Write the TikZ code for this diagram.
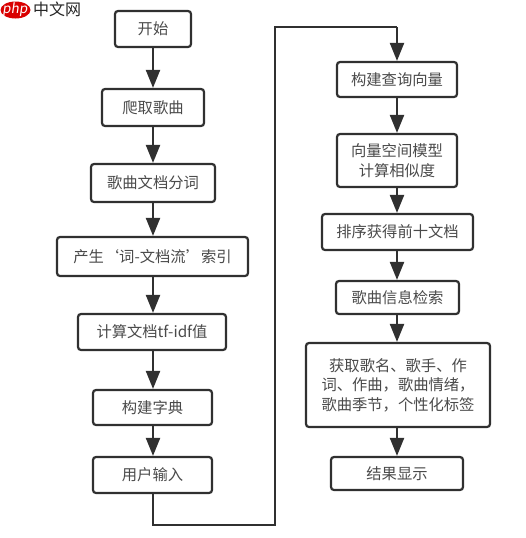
\documentclass[tikz,border=0pt]{standalone}
\usepackage{fontspec}
\setmainfont{Noto Sans CJK SC}
\usepackage{tikz}
\usetikzlibrary{shapes.geometric,calc,arrows.meta}
\definecolor{linegray}{HTML}{303030}
\definecolor{textgray}{HTML}{4A4A4A}

\begin{document}
\begin{tikzpicture}[
    x=1pt, y=-1pt,
    box/.style={draw=linegray, line width=2.2pt, rounded corners=3pt, fill=white, align=center, text=textgray, font=\fontsize{15.3}{19.5}\selectfont, inner sep=0pt},
    arr/.style={-{Triangle[length=18pt,width=14pt]}, line width=2.2pt, draw=linegray}
]
\useasboundingbox (0,0) rectangle (526,538);

% left column
\node[box, minimum width=76pt, minimum height=36pt] (start) at (153,29) {开始};
\node[box, minimum width=102pt, minimum height=37pt] (crawl) at (153,107.5) {爬取歌曲};
\node[box, minimum width=124pt, minimum height=38pt] (seg) at (153,183) {歌曲文档分词};
\node[box, minimum width=191pt, minimum height=39pt] (index) at (152.5,256.5) {产生‘词-文档流’索引};
\node[box, minimum width=148pt, minimum height=36pt] (tfidf) at (152,332) {计算文档tf-idf值};
\node[box, minimum width=119pt, minimum height=35pt] (dict) at (152.5,407.5) {构建字典};
\node[box, minimum width=119pt, minimum height=36pt] (input) at (152.5,475) {用户输入};

% right column
\node[box, minimum width=120pt, minimum height=35pt] (query) at (397,79.5) {构建查询向量};
\node[box, minimum width=120pt, minimum height=53pt] (vsm) at (397,160.5) {向量空间模型\\计算相似度};
\node[box, minimum width=151pt, minimum height=36pt] (rank) at (397.5,232) {排序获得前十文档};
\node[box, minimum width=123pt, minimum height=33pt] (search) at (397.5,297.5) {歌曲信息检索};
\node[box, minimum width=184pt, minimum height=84pt] (info) at (398,385) {获取歌名、歌手、作\\词、作曲，歌曲情绪，\\歌曲季节，个性化标签};
\node[box, minimum width=132pt, minimum height=33pt] (result) at (397,473.5) {结果显示};

% edges
\draw[arr] (start) -- (crawl);
\draw[arr] (crawl) -- (seg);
\draw[arr] (seg) -- (seg|-index.north);
\draw[arr] (seg|-index.south) -- (seg|-tfidf.north);
\draw[arr] (seg|-tfidf.south) -- (seg|-dict.north);
\draw[arr] (seg|-dict.south) -- (seg|-input.north);
\coordinate (turnA) at (153,525);
\coordinate (turnB) at (275,525);
\coordinate (turnC) at (275,27);
\coordinate (turnD) at (397,27);
\draw[line width=2.2pt, draw=linegray] (seg|-input.south) -- (turnA) -- (turnB) -- (turnC) -- (turnD);
\draw[arr] (turnD) -- (query);
\draw[arr] (query) -- (vsm);
\draw[arr] (vsm) -- (vsm|-rank.north);
\draw[arr] (vsm|-rank.south) -- (vsm|-search.north);
\draw[arr] (vsm|-search.south) -- (vsm|-info.north);
\draw[arr] (vsm|-info.south) -- (vsm|-result.north);

% watermark
\node[ellipse, fill=red!85!black, minimum width=30pt, minimum height=17pt, inner sep=0pt] (logo) at (15.5,10) {};
\node[text=white, font=\fontsize{13.5}{13.5}\selectfont, inner sep=0pt, xslant=0.15] (logotext) at (15.5,9.5) {php};
\node[text=black!85, font=\fontsize{16}{16}\selectfont, inner sep=0pt] (site) at (57,9.5) {中文网};
\end{tikzpicture}
\end{document}
